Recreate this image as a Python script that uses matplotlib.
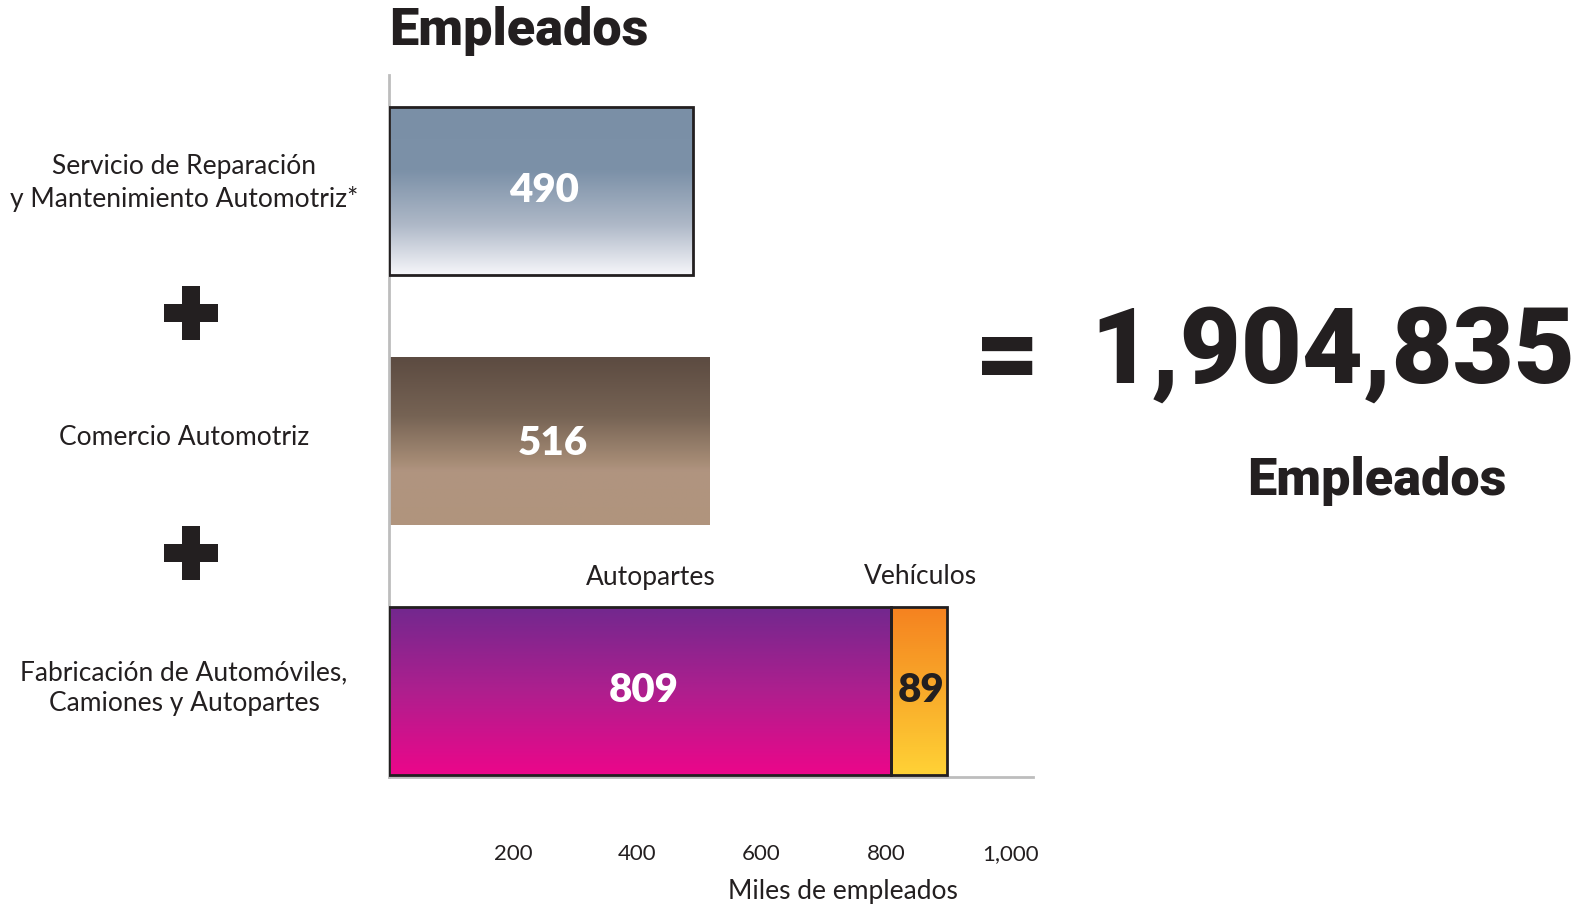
import matplotlib
matplotlib.use("Agg")
import matplotlib.pyplot as plt
import numpy as np
from matplotlib.colors import LinearSegmentedColormap
from matplotlib.patches import Rectangle

# ---- data ----
categories = ["Servicio de Reparación\ny Mantenimiento Automotriz*",
              "Comercio Automotriz",
              "Fabricación de Automóviles,\nCamiones y Autopartes"]
servicio = [490]
comercio = [516]
autopartes = [809]
vehiculos = [89]
tick_values = [200, 400, 600, 800, 1000]
tick_labels = ["200", "400", "600", "800", "1,000"]
total_label = "1,904,835"

W, H = 1578, 907
fig = plt.figure(figsize=(W / 100, H / 100), dpi=100)
fig.patch.set_facecolor("white")

def fx(px):
    return px / W

def fy(py):
    return 1 - py / H

ax = fig.add_axes([fx(389), fy(777), fx(1033) - fx(389), fy(75) - fy(777)])

label_font = "Lato"
bold_font = "Roboto"
dark = "#231F20"

ypos = [2, 1, 0]
bh = 0.672

def grad_bar(x0, width, yc, stops, edge=True):
    cmap = LinearSegmentedColormap.from_list("g", stops)
    grad = np.linspace(0, 1, 256).reshape(-1, 1)
    y0, y1 = yc - bh / 2, yc + bh / 2
    im = ax.imshow(grad, cmap=cmap, aspect="auto",
                   extent=[x0, x0 + width, y0, y1], origin="upper",
                   interpolation="bilinear", zorder=2)
    rect = Rectangle((x0, y0), width, bh, facecolor="none",
                     edgecolor=dark if edge else "none", linewidth=2.0, zorder=3)
    ax.add_patch(rect)
    im.set_clip_path(rect)

grad_bar(0, servicio[0], ypos[0],
         [(0, "#7A8FA6"), (0.38, "#7C91A8"), (0.7, "#AEB8C7"), (1, "#F6F6FA")])
grad_bar(0, comercio[0], ypos[1],
         [(0, "#5C4B41"), (0.35, "#766354"), (0.62, "#A58B75"), (0.68, "#B09480"), (1, "#B0957D")],
         edge=False)
grad_bar(0, autopartes[0], ypos[2],
         [(0, "#72288E"), (0.5, "#AE1F8E"), (1, "#EC068A")])
grad_bar(autopartes[0], vehiculos[0], ypos[2],
         [(0, "#F58220"), (0.5, "#F9AA2A"), (1, "#FFD236")])

vkw = dict(ha="center", va="center", fontsize=29, fontweight="heavy",
           family=label_font, zorder=4)
ax.text(servicio[0] / 2 + 5, ypos[0], f"{servicio[0]}", color="white", **vkw)
ax.text(comercio[0] / 2 + 5, ypos[1] - 0.01, f"{comercio[0]}", color="white", **vkw)
ax.text(autopartes[0] / 2 + 5, ypos[2], f"{autopartes[0]}", color="white", **vkw)
ax.text(autopartes[0] + vehiculos[0] / 2 + 4, ypos[2], f"{vehiculos[0]}", color=dark, **vkw)

# segment labels
ax.text(autopartes[0] / 2 + 17, ypos[2] + bh / 2 + 0.12, "Autopartes", ha="center", va="center",
        color=dark, fontsize=19, family=label_font)
ax.text(autopartes[0] + vehiculos[0] / 2 + 2, ypos[2] + bh / 2 + 0.12, "Vehículos", ha="center", va="center",
        color=dark, fontsize=19, family=label_font)

ax.set_xlim(0, 1037)
ax.set_ylim(-0.344, 2.464)
ax.set_yticks([])
ax.set_xticks(tick_values)
ax.set_xticklabels(tick_labels, family=label_font, fontsize=16, color=dark)
ax.tick_params(axis="x", length=0, pad=48)
ax.set_xlabel("Miles de empleados", family=label_font, fontsize=19, color=dark)
ax.xaxis.set_label_coords((843 - 389) / (1033 - 389), -(879 - 777) / (777 - 75))
for s in ["top", "right"]:
    ax.spines[s].set_visible(False)
ax.spines["left"].set_color("#BDBDBD")
ax.spines["bottom"].set_color("#BDBDBD")
ax.spines["left"].set_linewidth(2)
ax.spines["bottom"].set_linewidth(2)
ax.set_facecolor("none")

# category labels
cat_y = [183, 437, 688]
for lab, py in zip(categories, cat_y):
    fig.text(fx(184), fy(py), lab, ha="center", va="center", fontsize=19,
             family=label_font, color=dark, linespacing=1.3)

# plus signs
for py in [313, 553]:
    cx, cy = 191, py
    L, T = 54, 18
    fig.add_artist(Rectangle((fx(cx - L / 2), fy(cy + T / 2)), L / W, T / H,
                             transform=fig.transFigure, facecolor=dark, edgecolor="none"))
    fig.add_artist(Rectangle((fx(cx - T / 2), fy(cy + L / 2)), T / W, L / H,
                             transform=fig.transFigure, facecolor=dark, edgecolor="none"))

# title
fig.text(fx(389), fy(31), "Empleados", ha="left", va="center", fontsize=37.5,
         fontweight="black", family=bold_font, color=dark)

# total
fig.text(fx(1008), fy(360), "=", ha="center", va="center", fontsize=80,
         fontweight="black", family=bold_font, color=dark)
fig.text(fx(1333), fy(354), total_label, ha="center", va="center", fontsize=76,
         fontweight="black", family=bold_font, color=dark)
fig.text(fx(1377), fy(481), "Empleados", ha="center", va="center", fontsize=37.5,
         fontweight="black", family=bold_font, color=dark)

fig.savefig("out.png", dpi=100, facecolor="white")
